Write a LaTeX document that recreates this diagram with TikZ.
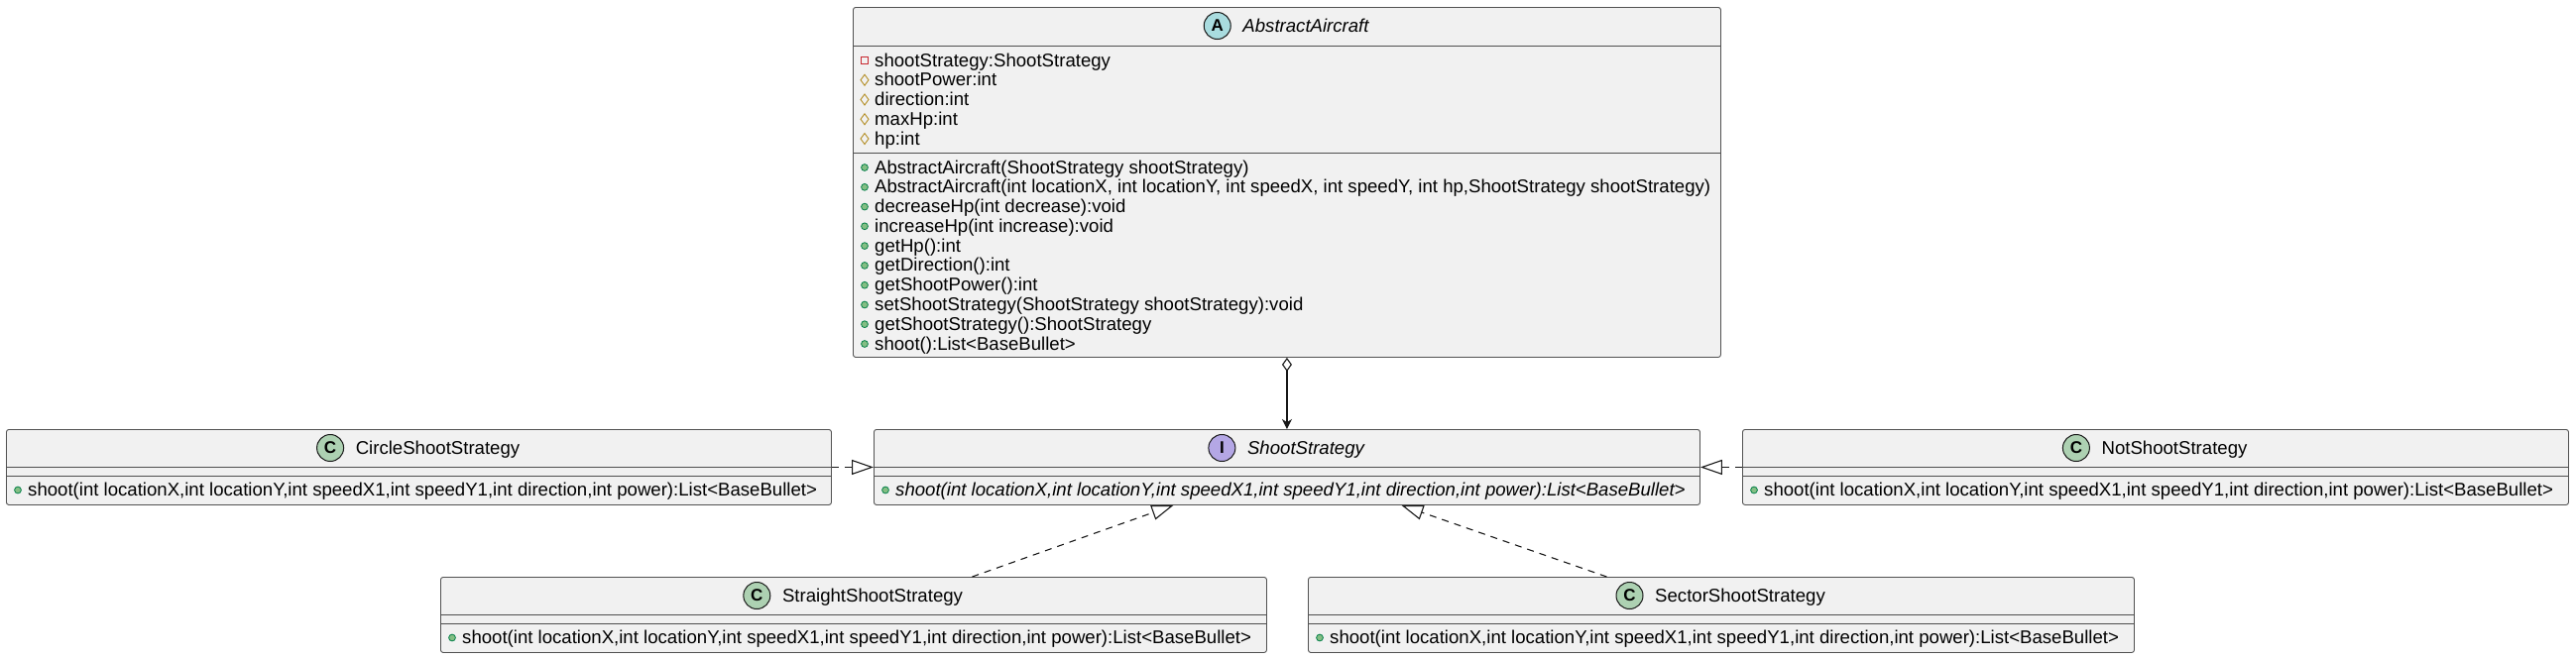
\documentclass[tikz,border=0pt]{standalone}
\usepackage{fontspec}
\setmainfont{Liberation Sans}
\usetikzlibrary{arrows.meta,calc}
\definecolor{boxfill}{HTML}{F1F1F1}
\definecolor{boxline}{HTML}{181818}
\definecolor{divline}{HTML}{505050}
\definecolor{iconA}{HTML}{A9DCDF}
\definecolor{iconC}{HTML}{ADD1B2}
\definecolor{iconI}{HTML}{B4A7E5}
\definecolor{pubfill}{HTML}{84BE84}
\definecolor{publine}{HTML}{038048}
\definecolor{protline}{HTML}{B38D22}
\definecolor{privline}{HTML}{C82930}
\tikzset{
  classbox/.style={draw=boxline!75, fill=boxfill, line width=0.9pt, rounded corners=2.5pt, anchor=north west, inner sep=0pt},
  divider/.style={draw=divline, line width=0.9pt},
  member/.style={anchor=base west, inner sep=0pt, font=\fontsize{18.6}{20}\selectfont, text=black},
  cname/.style={anchor=base, inner sep=0pt, font=\fontsize{18.6}{20}\selectfont, text=black},
  cicon/.style={circle, draw=boxline, line width=1pt, minimum size=27pt, inner sep=0pt, font=\fontsize{17}{17}\selectfont\bfseries},
  agg/.style={draw=boxline, line width=1.1pt, {Diamond[open, length=14pt, width=10pt]}-{Stealth[length=10pt, width=10pt, inset=3pt]}},
  realize/.style={draw=boxline, line width=1.1pt, dash pattern=on 7pt off 6pt, -{Triangle[open, length=22pt, width=15pt]}},
  pics/pub/.style={code={\filldraw[fill=pubfill, draw=publine, line width=0.8pt] (0,0) circle (3.4pt);}},
  pics/prot/.style={code={\draw[draw=protline, line width=0.9pt] (0,-5.5) -- (4,0) -- (0,5.5) -- (-4,0) -- cycle;}},
  pics/priv/.style={code={\draw[draw=privline, line width=0.9pt] (-3.5,-3.5) rectangle (3.5,3.5);}},
}
% #1 name, #2 box left x, #3 row centre y, #4 icon pic, #5 text
\newcommand\mrow[5]{\pic at (#2+12,#3) {#4}; \node[member] (#1) at (#2+22,#3+6) {#5};}
% #1 name, #2 centre x, #3 top y, #4 icon colour, #5 letter, #6 title
\newcommand\chead[6]{\node[cname] (#1) at (#2+19.5,#3+25.5) {#6};
  \node[cicon, fill=#4] (#1i) at ($(#1.base west)+(-25.5,-6.5)$) {#5};}
% #1 box node, #2 offset of divider from top
\newcommand\cdiv[2]{\draw[divider] ([yshift=-#2pt]#1.north west) -- ([yshift=-#2pt]#1.north east);}
\begin{document}
\begin{tikzpicture}[x=1pt, y=-1pt]
\fill[white] (0,0) rectangle (2598,664);
\useasboundingbox (0,0) rectangle (2598,664);

% AbstractAircraft
\node[classbox, minimum width=875pt, minimum height=353pt] (abs) at (860,7) {};
\cdiv{abs}{39}
\cdiv{abs}{147}
\chead{absn}{1297.5}{7}{iconA}{A}{\itshape AbstractAircraft}
\mrow{a1}{860}{61}{priv}{shootStrategy:ShootStrategy}
\mrow{a2}{860}{80.75}{prot}{shootPower:int}
\mrow{a3}{860}{100.5}{prot}{direction:int}
\mrow{a4}{860}{120.25}{prot}{maxHp:int}
\mrow{a5}{860}{140}{prot}{hp:int}
\mrow{m1}{860}{169}{pub}{AbstractAircraft(ShootStrategy shootStrategy)}
\mrow{m2}{860}{188.8}{pub}{AbstractAircraft(int locationX, int locationY, int speedX, int speedY, int hp,ShootStrategy shootStrategy)}
\mrow{m3}{860}{208.6}{pub}{decreaseHp(int decrease):void}
\mrow{m4}{860}{228.3}{pub}{increaseHp(int increase):void}
\mrow{m5}{860}{248.1}{pub}{getHp():int}
\mrow{m6}{860}{267.9}{pub}{getDirection():int}
\mrow{m7}{860}{287.7}{pub}{getShootPower():int}
\mrow{m8}{860}{307.5}{pub}{setShootStrategy(ShootStrategy shootStrategy):void}
\mrow{m9}{860}{327.2}{pub}{getShootStrategy():ShootStrategy}
\mrow{m10}{860}{347}{pub}{shoot():List<BaseBullet>}

% CircleShootStrategy
\node[classbox, minimum width=832pt, minimum height=76pt] (circ) at (6,433) {};
\cdiv{circ}{38}
\cdiv{circ}{47}
\chead{circn}{422}{433}{iconC}{C}{CircleShootStrategy}
\mrow{c1}{6}{494.5}{pub}{shoot(int locationX,int locationY,int speedX1,int speedY1,int direction,int power):List<BaseBullet>}

% ShootStrategy
\node[classbox, minimum width=833pt, minimum height=76pt] (shoot) at (881,433) {};
\cdiv{shoot}{38}
\cdiv{shoot}{47}
\chead{shootn}{1297.5}{433}{iconI}{I}{\itshape ShootStrategy}
\mrow{s1}{881}{494.5}{pub}{\itshape shoot(int locationX,int locationY,int speedX1,int speedY1,int direction,int power):List<BaseBullet>}

% NotShootStrategy
\node[classbox, minimum width=833pt, minimum height=76pt] (notss) at (1757,433) {};
\cdiv{notss}{38}
\cdiv{notss}{47}
\chead{notn}{2173.5}{433}{iconC}{C}{NotShootStrategy}
\mrow{n1}{1757}{494.5}{pub}{shoot(int locationX,int locationY,int speedX1,int speedY1,int direction,int power):List<BaseBullet>}

% StraightShootStrategy
\node[classbox, minimum width=833pt, minimum height=76pt] (straight) at (444,582) {};
\cdiv{straight}{38}
\cdiv{straight}{47}
\chead{strn}{860.5}{582}{iconC}{C}{StraightShootStrategy}
\mrow{t1}{444}{643.5}{pub}{shoot(int locationX,int locationY,int speedX1,int speedY1,int direction,int power):List<BaseBullet>}

% SectorShootStrategy
\node[classbox, minimum width=833pt, minimum height=76pt] (sector) at (1319,582) {};
\cdiv{sector}{38}
\cdiv{sector}{47}
\chead{secn}{1735.5}{582}{iconC}{C}{SectorShootStrategy}
\mrow{e1}{1319}{643.5}{pub}{shoot(int locationX,int locationY,int speedX1,int speedY1,int direction,int power):List<BaseBullet>}

% connectors
\draw[agg] (abs.south) -- (shoot.north);
\draw[realize] (circ.east) -- (shoot.west);
\draw[realize] (notss.west) -- (shoot.east);
\draw[realize] ([xshift=119.5pt]straight.north) -- ([xshift=-114.5pt]shoot.south);
\draw[realize] ([xshift=-115.5pt]sector.north) -- ([xshift=115.5pt]shoot.south);
\end{tikzpicture}
\end{document}
